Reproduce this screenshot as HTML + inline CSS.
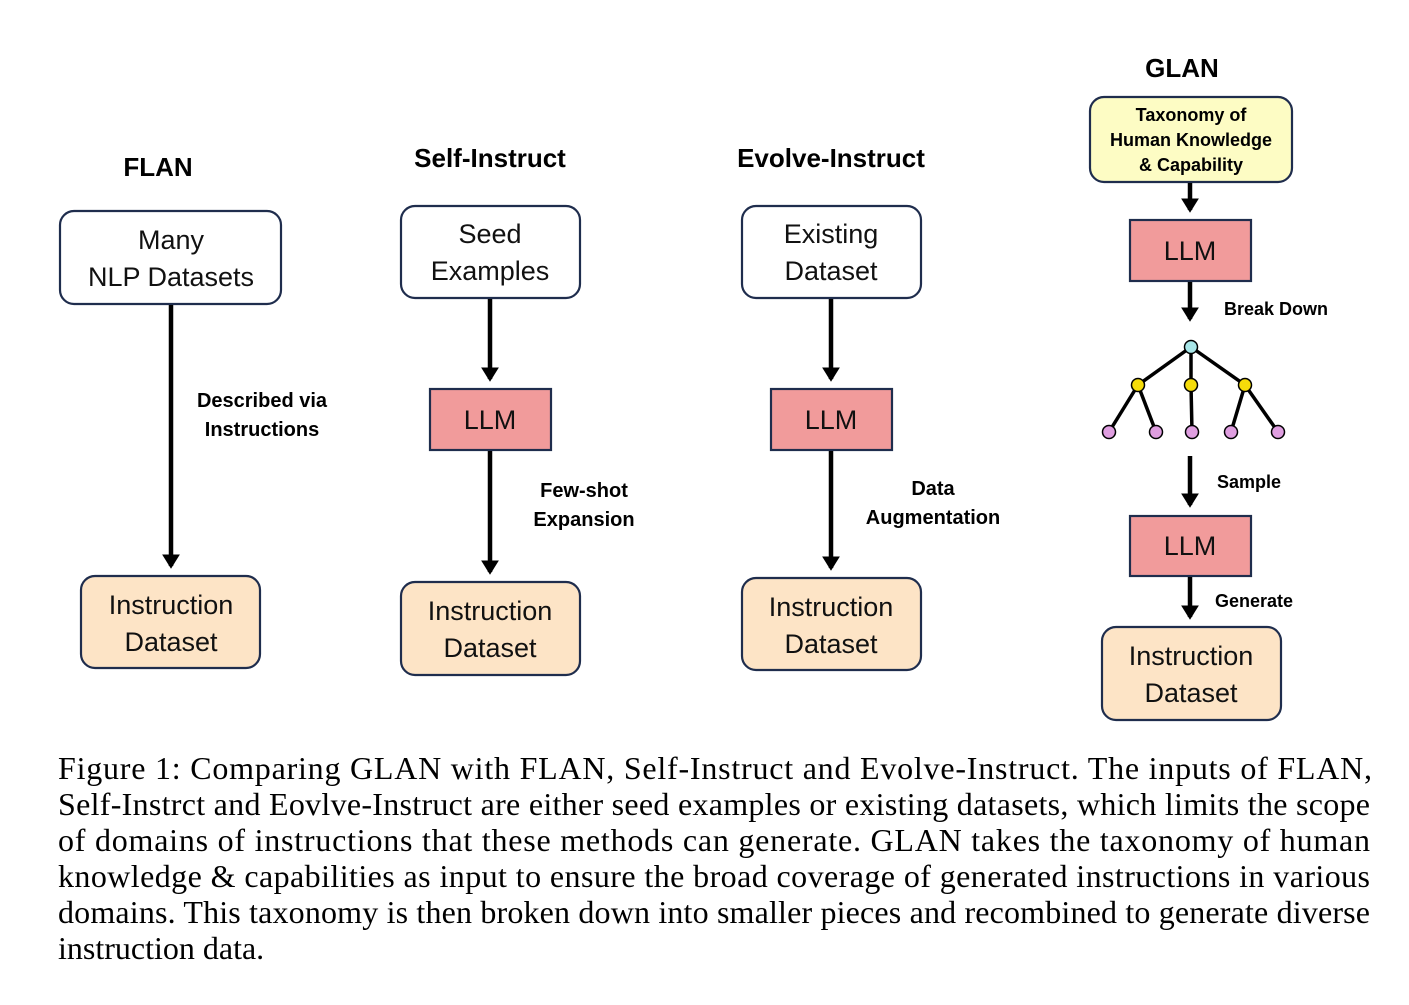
<!DOCTYPE html>
<html><head><style>body{margin:0;background:#fff}</style></head><body>
<svg width="1409" height="1000" viewBox="0 0 1409 1000" xmlns="http://www.w3.org/2000/svg">
<defs><marker id="a" markerWidth="4" markerHeight="4" refX="2.6" refY="2" orient="auto" markerUnits="strokeWidth"><path d="M0,0 L3.2,2 L0,4 z" fill="#000"/></marker></defs>
<rect width="1409" height="1000" fill="#fff"/>
<g font-family="Liberation Sans, sans-serif" text-anchor="middle">
<g font-weight="bold" font-size="26" fill="#000">
<text x="158" y="176">FLAN</text>
<text x="490" y="167">Self-Instruct</text>
<text x="831" y="167">Evolve-Instruct</text>
<text x="1182" y="77">GLAN</text>
</g>
<g stroke="#1f2d4d" stroke-width="2.2">
<rect x="60" y="211" width="221" height="93" rx="14" fill="#fff"/>
<rect x="81" y="576" width="179" height="92" rx="14" fill="#fde4c6"/>
<rect x="401" y="206" width="179" height="92" rx="14" fill="#fff"/>
<rect x="430" y="389" width="121" height="61" fill="#f19b9b"/>
<rect x="401" y="582" width="179" height="93" rx="14" fill="#fde4c6"/>
<rect x="742" y="206" width="179" height="92" rx="14" fill="#fff"/>
<rect x="771" y="389" width="121" height="61" fill="#f19b9b"/>
<rect x="742" y="578" width="179" height="92" rx="14" fill="#fde4c6"/>
<rect x="1090" y="97" width="202" height="85" rx="14" fill="#fdfcc4"/>
<rect x="1130" y="220" width="121" height="61" fill="#f19b9b"/>
<rect x="1130" y="516" width="121" height="60" fill="#f19b9b"/>
<rect x="1102" y="627" width="179" height="93" rx="14" fill="#fde4c6"/>
</g>
<g stroke="#000" stroke-width="4.5" marker-end="url(#a)">
<line x1="171" y1="305" x2="171" y2="566"/>
<line x1="490" y1="299" x2="490" y2="379"/>
<line x1="490" y1="451" x2="490" y2="572"/>
<line x1="831" y1="299" x2="831" y2="379"/>
<line x1="831" y1="451" x2="831" y2="568"/>
<line x1="1190" y1="183" x2="1190" y2="210"/>
<line x1="1190" y1="282" x2="1190" y2="319"/>
<line x1="1190" y1="456" x2="1190" y2="505"/>
<line x1="1190" y1="577" x2="1190" y2="617"/>
</g>
<g stroke="#000" stroke-width="3.5">
<line x1="1191" y1="347" x2="1138" y2="385"/><line x1="1191" y1="347" x2="1191" y2="385"/><line x1="1191" y1="347" x2="1245" y2="385"/>
<line x1="1138" y1="385" x2="1109" y2="432"/><line x1="1138" y1="385" x2="1156" y2="432"/>
<line x1="1191" y1="385" x2="1192" y2="432"/>
<line x1="1245" y1="385" x2="1231" y2="432"/><line x1="1245" y1="385" x2="1278" y2="432"/>
</g>
<g stroke="#000" stroke-width="1.5">
<circle cx="1191" cy="347" r="6.5" fill="#a8e6e8"/>
<circle cx="1138" cy="385" r="6.5" fill="#f5dc0a"/><circle cx="1191" cy="385" r="6.5" fill="#f5dc0a"/><circle cx="1245" cy="385" r="6.5" fill="#f5dc0a"/>
<circle cx="1109" cy="432" r="6.5" fill="#df9ee0"/><circle cx="1156" cy="432" r="6.5" fill="#df9ee0"/><circle cx="1192" cy="432" r="6.5" fill="#df9ee0"/><circle cx="1231" cy="432" r="6.5" fill="#df9ee0"/><circle cx="1278" cy="432" r="6.5" fill="#df9ee0"/>
</g>
<g font-size="27" fill="#111">
<text x="171" y="249">Many</text><text x="171" y="286">NLP Datasets</text>
<text x="171" y="614">Instruction</text><text x="171" y="651">Dataset</text>
<text x="490" y="243">Seed</text><text x="490" y="280">Examples</text>
<text x="490" y="429">LLM</text>
<text x="490" y="620">Instruction</text><text x="490" y="657">Dataset</text>
<text x="831" y="243">Existing</text><text x="831" y="280">Dataset</text>
<text x="831" y="429">LLM</text>
<text x="831" y="616">Instruction</text><text x="831" y="653">Dataset</text>
<text x="1190" y="260">LLM</text>
<text x="1190" y="555">LLM</text>
<text x="1191" y="665">Instruction</text><text x="1191" y="702">Dataset</text>
</g>
<g font-weight="bold" font-size="20" fill="#000">
<text x="262" y="407">Described via</text><text x="262" y="436">Instructions</text>
<text x="584" y="497">Few-shot</text><text x="584" y="526">Expansion</text>
<text x="933" y="495">Data</text><text x="933" y="524">Augmentation</text>
</g>
<g font-weight="bold" font-size="18" fill="#000">
<text x="1191" y="121">Taxonomy of</text><text x="1191" y="146">Human Knowledge</text><text x="1191" y="171">&amp; Capability</text>
<text x="1276" y="315">Break Down</text>
<text x="1249" y="488">Sample</text>
<text x="1254" y="607">Generate</text>
</g>
</g>
<g font-family="Liberation Serif, serif" font-size="32" fill="#000">
<text x="58" y="779" textLength="1314" lengthAdjust="spacing">Figure 1: Comparing GLAN with FLAN, Self-Instruct and Evolve-Instruct. The inputs of FLAN,</text>
<text x="58" y="815" textLength="1312" lengthAdjust="spacing">Self-Instrct and Eovlve-Instruct are either seed examples or existing datasets, which limits the scope</text>
<text x="58" y="851" textLength="1312" lengthAdjust="spacing">of domains of instructions that these methods can generate. GLAN takes the taxonomy of human</text>
<text x="58" y="887" textLength="1312" lengthAdjust="spacing">knowledge &amp; capabilities as input to ensure the broad coverage of generated instructions in various</text>
<text x="58" y="923" textLength="1312" lengthAdjust="spacing">domains. This taxonomy is then broken down into smaller pieces and recombined to generate diverse</text>
<text x="58" y="959">instruction data.</text>
</g>
</svg>
</body></html>
